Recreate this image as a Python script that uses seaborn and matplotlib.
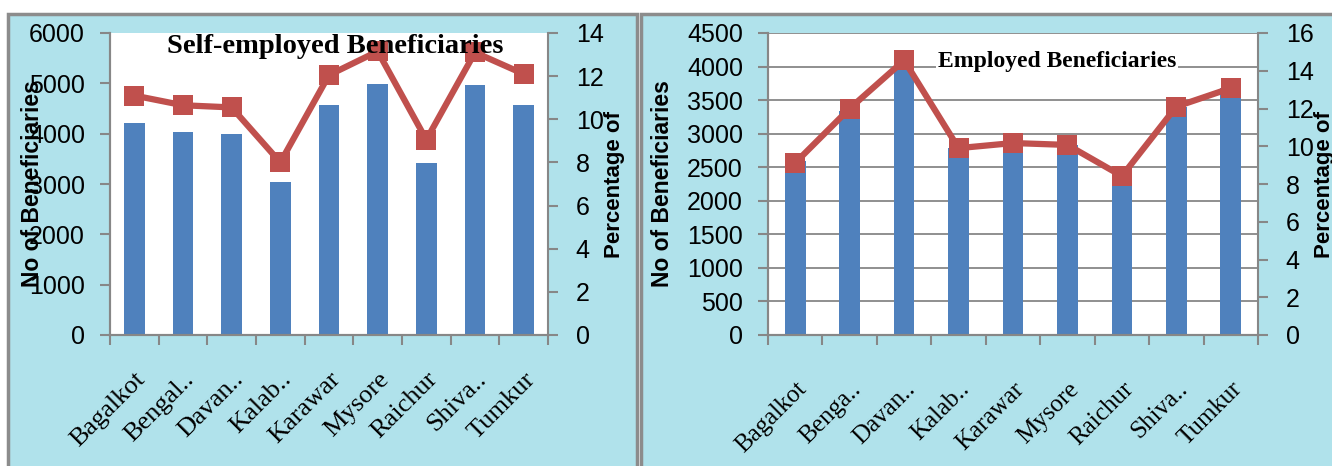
import matplotlib
matplotlib.use("Agg")
import matplotlib.pyplot as plt
import seaborn as sns
from matplotlib.patches import Rectangle

# ---------------------------------------------------------
# Data
# ---------------------------------------------------------
districts_self = ["Bagalkot", "Bengal..", "Davan..", "Kalab..", "Karawar",
                  "Mysore", "Raichur", "Shiva..", "Tumkur"]
districts_emp = ["Bagalkot", "Benga..", "Davan..", "Kalab..", "Karawar",
                 "Mysore", "Raichur", "Shiva..", "Tumkur"]

self_count = [4220, 4030, 3990, 3030, 4570, 4980, 3420, 4970, 4560]
self_pct = [11.1, 10.65, 10.55, 8.0, 12.05, 13.15, 9.05, 13.1, 12.1]

emp_count = [2590, 3340, 4090, 2790, 2850, 2830, 2370, 3400, 3680]
emp_pct = [9.12, 12.0, 14.55, 9.9, 10.17, 10.07, 8.42, 12.1, 13.08]

BLUE = "#4F81BD"
RED = "#C0504D"
GREY = "#878787"
BG = "#b0e2eb"
TICK_FONT = ["Liberation Sans", "DejaVu Sans"]
SERIF = ["Liberation Serif", "DejaVu Serif"]

W, H = 1332, 466
fig = plt.figure(figsize=(W / 100, H / 100), dpi=100)

# panel frames with the cyan background
for x0, x1 in [(8, 637), (641, 1340)]:
    fig.add_artist(Rectangle((x0 / W, -0.02), (x1 - x0) / W, 1 - 14 / H + 0.02,
                             transform=fig.transFigure, facecolor=BG,
                             edgecolor="#8c8c8c", linewidth=2.5, zorder=-5))

ax1 = fig.add_axes([110 / W, (H - 335) / H, 438 / W, 302 / H])
ax2 = fig.add_axes([768 / W, (H - 335) / H, 490 / W, 302 / H])


def draw_panel(ax, cats, counts, pcts, ymax, ystep, pmax, bar_w, xpad, xfs, grid):
    ax.set_facecolor("white")
    sns.barplot(x=cats, y=counts, color=BLUE, saturation=1, width=bar_w,
                linewidth=0, ax=ax)
    tw = ax.twinx()
    sns.pointplot(x=cats, y=pcts, color=RED, markers="s", errorbar=None,
                  markersize=14, linewidth=4.5, markeredgewidth=0, ax=tw)
    tw.set_zorder(ax.get_zorder() + 1)

    n = len(cats)
    ax.set_xlim(-0.5, n - 0.5)
    ax.set_ylim(0, ymax)
    ax.set_yticks(range(0, ymax + 1, ystep))
    tw.set_ylim(0, pmax)
    tw.set_yticks(range(0, pmax + 1, 2))

    if grid:
        ax.set_axisbelow(True)
        ax.yaxis.grid(True, color=GREY, linewidth=1.3)
    else:
        ax.grid(False)
    tw.grid(False)

    for a in (ax, tw):
        for s in a.spines.values():
            s.set_color(GREY)
            s.set_linewidth(1.5)
        a.spines["top"].set_visible(False)
    ax.spines["right"].set_visible(False)

    # category boundary ticks on x
    ax.set_xticks([i - 0.5 for i in range(n + 1)], minor=True)
    ax.tick_params(axis="x", which="minor", length=7, width=1.5, color=GREY,
                   direction="out")
    ax.tick_params(axis="x", which="major", length=0, pad=xpad)
    ax.set_xticks(range(n))
    ax.set_xticklabels(cats, rotation=45, ha="right", va="top",
                       rotation_mode="anchor", fontsize=xfs, family=SERIF)

    ax.tick_params(axis="y", length=7, width=1.5, color=GREY, pad=11)
    tw.tick_params(axis="y", length=7, width=1.5, color=GREY, pad=13)
    for lab in ax.get_yticklabels() + tw.get_yticklabels():
        lab.set_fontsize(18)
        lab.set_family(TICK_FONT)
    ax.set_xlabel("")
    tw.set_xlabel("")
    return tw


tw1 = draw_panel(ax1, districts_self, self_count, self_pct, 6000, 1000, 14,
                 0.42, 24, 19, grid=False)
tw2 = draw_panel(ax2, districts_emp, emp_count, emp_pct, 4500, 500, 16,
                 0.38, 31, 18, grid=True)

# axis labels
ax1.set_ylabel("No of Beneficiaries", fontsize=16.5, fontweight="bold", family=TICK_FONT)
ax1.yaxis.set_label_coords((44 - 110) / 438, 0.5)
tw1.set_ylabel("Percentage of", fontsize=16, fontweight="bold", family=TICK_FONT)
tw1.yaxis.set_label_coords((604 - 110) / 438, 0.5)

ax2.set_ylabel("No of Beneficiaries", fontsize=16.5, fontweight="bold", family=TICK_FONT)
ax2.yaxis.set_label_coords((674 - 768) / 490, 0.5)
tw2.set_ylabel("Percentage of", fontsize=16, fontweight="bold", family=TICK_FONT)
tw2.yaxis.set_label_coords((1314 - 768) / 490, 0.5)

# titles inside the plot areas
tw1.text(0.514, 0.934, "Self-employed Beneficiaries", transform=tw1.transAxes,
         ha="center", va="baseline", fontsize=20.5, fontweight="bold",
         family=SERIF, zorder=10)
ax2.text(0.59, 0.887, "Employed Beneficiaries", transform=ax2.transAxes,
         ha="center", va="baseline", fontsize=17, fontweight="bold",
         family=SERIF, zorder=5,
         bbox=dict(facecolor="white", edgecolor="none", pad=1))

fig.savefig("out.png", dpi=100)
